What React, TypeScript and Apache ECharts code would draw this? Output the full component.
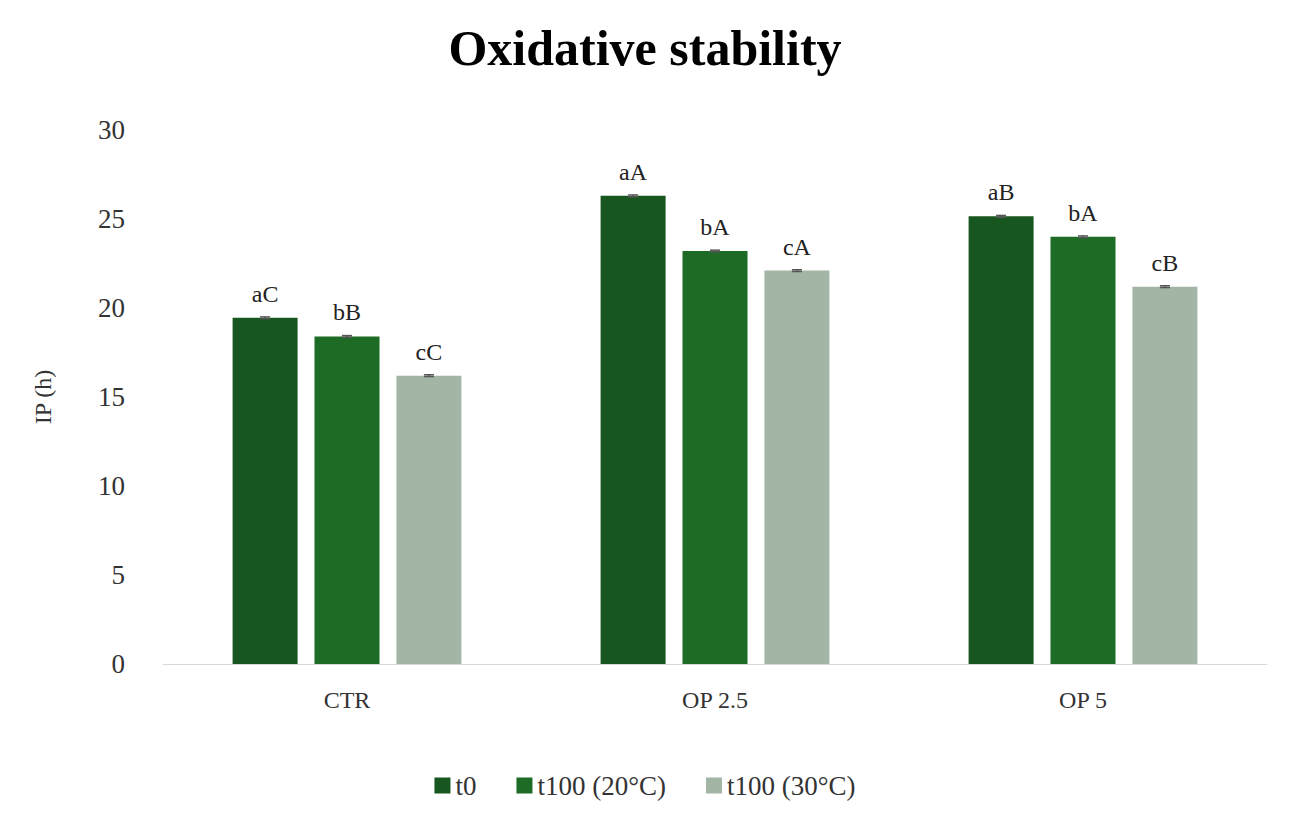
import React, { useEffect, useRef } from "react";
import * as echarts from "echarts";

const categories = ["CTR", "OP 2.5", "OP 5"];
const seriesNames = ["t0", "t100 (20°C)", "t100 (30°C)"];
const t0 = [19.45, 26.3, 25.15];
const t100_20 = [18.4, 23.2, 24.0];
const t100_30 = [16.2, 22.1, 21.2];
const errors = [0.05, 0.05, 0.05];
const letters = [
  ["aC", "aA", "aB"],
  ["bB", "bA", "bA"],
  ["cC", "cA", "cB"],
];
const colors = ["#17561f", "#1d6b25", "#a3b5a4"];

const font = "'Liberation Serif', 'DejaVu Serif', serif";

const App: React.FC = () => {
  const chartRef = useRef<HTMLDivElement>(null);

  useEffect(() => {
    if (!chartRef.current) return;
    const chart = echarts.init(chartRef.current, undefined, { renderer: "svg" });
    const values = [t0, t100_20, t100_30];

    const option: any = {
      animation: false,
      textStyle: { fontFamily: font },
      title: {
        text: "Oxidative stability",
        left: "center",
        top: 10,
        textStyle: { fontFamily: font, fontSize: 50, fontWeight: "bold", color: "#000" },
      },
      legend: {
        bottom: 12,
        left: "center",
        itemWidth: 16,
        itemHeight: 16,
        itemGap: 40,
        icon: "rect",
        textStyle: { fontFamily: font, fontSize: 27, color: "#333" },
        data: seriesNames,
      },
      grid: { left: 155, right: 15, top: 122, bottom: 152 },
      xAxis: {
        type: "category",
        data: categories,
        axisTick: { show: false },
        axisLine: { lineStyle: { color: "#d9d9d9" } },
        axisLabel: { fontSize: 24, color: "#333", margin: 24, fontFamily: font },
      },
      yAxis: {
        type: "value",
        min: 0,
        max: 30,
        interval: 5,
        name: "IP (h)",
        nameLocation: "middle",
        nameGap: 108,
        nameTextStyle: { fontSize: 24, color: "#333", fontFamily: font },
        splitLine: { show: false },
        axisLabel: { fontSize: 27, color: "#333", margin: 38, fontFamily: font },
      },
      series: [
        ...values.map((v, s) => ({
          name: seriesNames[s],
          type: "bar",
          data: v,
          barWidth: 65,
          barGap: "26%",
          itemStyle: { color: colors[s] },
          label: {
            show: true,
            position: "top",
            distance: 12,
            fontSize: 24,
            color: "#222",
            fontFamily: font,
            formatter: (p: any) => letters[s][p.dataIndex],
          },
        })),
        ...values.map((v, s) => ({
          type: "custom",
          name: seriesNames[s],
          silent: true,
          z: 10,
          data: v.map((y, i) => [i, y, errors[i]]),
          renderItem: (params: any, api: any) => {
            const i = api.value(0);
            const y = api.value(1);
            const e = api.value(2);
            const base = api.coord([i, y]);
            const offset = (s - 1) * 65 * 1.26;
            const x = base[0] + offset;
            const hi = api.coord([i, y + e])[1];
            const lo = api.coord([i, y - e])[1];
            const st = { stroke: "#555", lineWidth: 1.5 };
            return {
              type: "group",
              children: [
                { type: "line", shape: { x1: x, y1: hi, x2: x, y2: lo }, style: st },
                { type: "line", shape: { x1: x - 5, y1: hi, x2: x + 5, y2: hi }, style: st },
                { type: "line", shape: { x1: x - 5, y1: lo, x2: x + 5, y2: lo }, style: st },
              ],
            };
          },
        })),
      ],
    };

    chart.setOption(option);
    return () => chart.dispose();
  }, []);

  return <div ref={chartRef} style={{ width: "1274px", height: "808px" }} />;
};

export default App;
